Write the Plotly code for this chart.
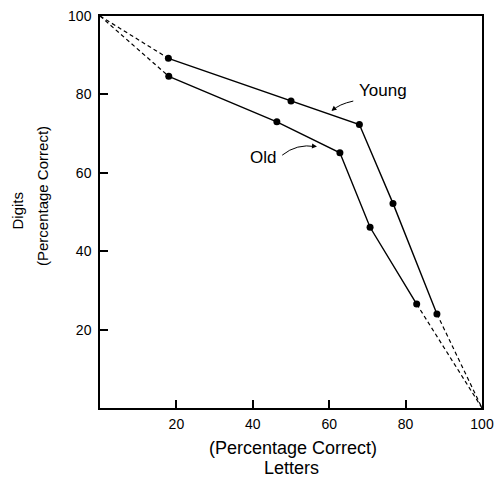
import plotly.graph_objects as go

# Data
young_letters = [17.9, 50.0, 67.9, 76.7, 88.2]
young_digits = [89.2, 78.3, 72.3, 52.2, 24.0]
old_letters = [18.0, 46.3, 62.8, 70.7, 82.9]
old_digits = [84.6, 73.0, 65.1, 46.1, 26.5]
anchor_start = (0, 100)
anchor_end = (100, 0)
tick_vals = [20, 40, 60, 80, 100]
tick_text = ["20", "40", "60", "80", "100"]

FONT = "Liberation Sans, Arial, Helvetica, sans-serif"
fig = go.Figure()

for xs, ys in [(young_letters, young_digits), (old_letters, old_digits)]:
    fig.add_trace(go.Scatter(x=[anchor_start[0], xs[0]], y=[anchor_start[1], ys[0]],
                             mode="lines", line=dict(color="black", width=1.2, dash="4px,3px"),
                             showlegend=False, hoverinfo="skip"))
    fig.add_trace(go.Scatter(x=[xs[-1], anchor_end[0]], y=[ys[-1], anchor_end[1]],
                             mode="lines", line=dict(color="black", width=1.2, dash="4px,3px"),
                             showlegend=False, hoverinfo="skip"))
    fig.add_trace(go.Scatter(x=xs, y=ys, mode="lines+markers",
                             line=dict(color="black", width=1.4),
                             marker=dict(color="black", size=7),
                             showlegend=False))

# Curved arrows for labels
fig.add_shape(type="path", path="M 66.3,78.3 Q 62.5,77.5 60.9,75.9",
              line=dict(color="black", width=1), xref="x", yref="y")
fig.add_shape(type="path", path="M 47.7,64.5 Q 51.5,67.5 56.4,66.7",
              line=dict(color="black", width=1), xref="x", yref="y")
fig.add_annotation(x=60.6, y=75.8, ax=61.6, ay=76.6, xref="x", yref="y", axref="x", ayref="y",
                   text="", showarrow=True, arrowhead=2, arrowsize=1, arrowwidth=1, arrowcolor="black")
fig.add_annotation(x=56.8, y=66.7, ax=55.6, ay=66.8, xref="x", yref="y", axref="x", ayref="y",
                   text="", showarrow=True, arrowhead=2, arrowsize=1, arrowwidth=1, arrowcolor="black")
fig.add_annotation(x=74.0, y=81.0, text="Young", showarrow=False,
                   xanchor="center", yanchor="middle",
                   font=dict(family=FONT, size=17, color="black"))
fig.add_annotation(x=42.6, y=64.0, text="Old", showarrow=False,
                   xanchor="center", yanchor="middle",
                   font=dict(family=FONT, size=17, color="black"))

# Axis titles (as positioned annotations)
title_font = dict(family=FONT, size=18, color="black")
fig.add_annotation(x=0.505, y=-0.101, xref="paper", yref="paper", text="(Percentage Correct)",
                   xanchor="center", yanchor="middle", showarrow=False, font=title_font)
fig.add_annotation(x=0.50, y=-0.152, xref="paper", yref="paper", text="Letters",
                   xanchor="center", yanchor="middle", showarrow=False, font=title_font)
fig.add_annotation(x=-0.216, y=0.505, xref="paper", yref="paper", text="Digits", textangle=-90,
                   xanchor="center", yanchor="middle", showarrow=False,
                   font=dict(family=FONT, size=15, color="black"))
fig.add_annotation(x=-0.149, y=0.541, xref="paper", yref="paper", text="(Percentage Correct)",
                   textangle=-90, xanchor="center", yanchor="middle", showarrow=False,
                   font=dict(family=FONT, size=15, color="black"))

axis_common = dict(
    range=[0, 100], tickvals=tick_vals, ticktext=tick_text,
    showline=True, linecolor="black", linewidth=1.5, mirror=True,
    ticks="inside", ticklen=8, tickwidth=1.5, tickcolor="black",
    showgrid=False, zeroline=False, automargin=False, ticklabeloverflow="allow",
    tickfont=dict(family=FONT, size=14, color="black"),
)
fig.update_xaxes(**axis_common, ticklabelstandoff=2)
fig.update_yaxes(**axis_common, ticklabelstandoff=4)

fig.update_layout(
    width=494, height=484,
    margin=dict(l=100, r=12, t=16, b=76, autoexpand=False),
    plot_bgcolor="white", paper_bgcolor="white",
)
# remove the default 8px page margin so the figure fills the window exactly
fig.write_html("out.html", config={"displayModeBar": False},
               post_script="document.body.style.margin='0';document.body.style.overflow='hidden';")
